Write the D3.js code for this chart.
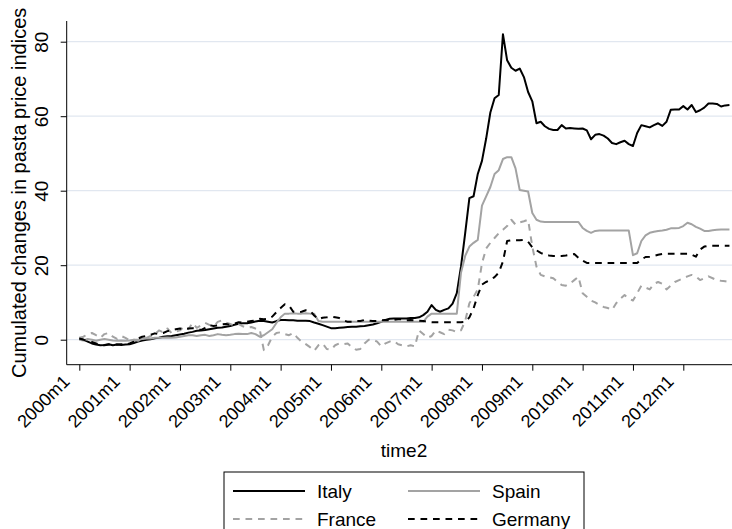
<!DOCTYPE html>
<html>
<head>
<meta charset="utf-8">
<script src="https://cdn.jsdelivr.net/npm/d3@7"></script>
<style>
  body { margin: 0; background: #fff; }
  svg { display: block; font-family: "Liberation Sans", Arial, sans-serif; }
</style>
</head>
<body>
<div id="wrapper"></div>
<script>
// DATA: monthly cumulated changes, 2000m1 .. 2012m12
const tickLabels = ["2000m1", "2001m1", "2002m1", "2003m1", "2004m1", "2005m1", "2006m1",
  "2007m1", "2008m1", "2009m1", "2010m1", "2011m1", "2012m1"];
const yTicks = [0, 20, 40, 60, 80];

const italy = [
  0.3, 0, -0.5, -1, -1.3, -1.5, -1.4, -1.2, -1.5, -1.3, -1.4, -1.3,
  -1.2, -0.9, -0.5, -0.2, 0, 0.1, 0.4, 0.5, 0.8, 0.9, 1, 1.2,
  1.4, 1.6, 1.9, 2.1, 2.4, 2.5, 2.6, 2.8, 3, 3.2, 3.3, 3.5,
  3.7, 4, 4.3, 4.4, 4.4, 4.6, 4.9, 5.1, 5, 4.8, 4.6, 5,
  5.3, 5.3, 5.2, 5.2, 5.1, 5.1, 5.1, 5, 4.6, 4.3, 3.9, 3.5,
  3.1, 3.1, 3.2, 3.3, 3.4, 3.5, 3.5, 3.6, 3.7, 3.9, 4.1, 4.4,
  4.8, 5.3, 5.6, 5.7, 5.7, 5.7, 5.7, 5.8, 5.8, 6, 6.6, 7.5,
  9.3, 8, 7.5, 8, 8.4, 9.7, 12.5, 19.6, 28.6, 38, 38.5, 44.5,
  48, 54, 61, 64.8, 65.7, 82, 75, 73, 72.2, 72.8, 70.5, 66.5,
  64, 58.1, 58.5, 57.3, 56.6, 56.3, 56.3, 57.6, 56.7, 56.8, 56.7, 56.6,
  56.7, 56.2, 53.8, 55, 55.2, 54.8, 54, 52.8, 52.5, 53, 53.4, 52.5,
  52, 55.5, 57.6, 57.3, 57, 57.6, 58.1, 57.4, 58.5, 61.7, 61.8, 61.8,
  62.7, 61.8, 63, 61.1, 61.6, 62.3, 63.4, 63.4, 63.3, 62.6, 62.9, 63
];

const spain = [
  0, -0.2, 0.2, 0, -0.3, 0, 0.2, 0, -0.2, -0.3, -0.2, -0.3,
  -0.2, 0, 0, 0.2, 0.3, 0.3, 0.5, 0.5, 0.5, 0.6, 0.5, 0.6,
  0.8, 1, 1.2, 1.2, 1, 1.2, 1.3, 1, 1.2, 1.5, 1.3, 1.2,
  1.3, 1.5, 1.6, 1.5, 1.5, 1.8, 1.5, 0.8, 1.2, 2, 2.8, 4.5,
  6, 7, 7, 7.1, 7, 7, 7.1, 7, 7, 5, 4.8, 4.8,
  4.8, 4.8, 4.8, 4.8, 4.8, 4.8, 4.8, 4.8, 4.8, 4.8, 4.8, 4.8,
  4.8, 4.8, 4.8, 4.8, 4.8, 4.8, 4.8, 4.8, 4.8, 4.8, 4.8, 6.2,
  7, 7, 7, 7, 7, 7, 7, 18, 22.5, 25, 26, 26.8,
  36, 38.5, 41, 44.5, 45.5, 48.5, 49, 49, 46, 40.2, 40, 39.8,
  34, 32.2, 31.7, 31.6, 31.6, 31.6, 31.6, 31.6, 31.6, 31.6, 31.6, 31.6,
  30, 29.2, 28.7, 29.2, 29.3, 29.3, 29.3, 29.3, 29.3, 29.3, 29.3, 29.3,
  22.7, 23.2, 26.5, 28, 28.7, 29, 29.2, 29.3, 29.5, 29.9, 29.9, 30,
  30.5, 31.4, 31, 30.3, 29.8, 29.2, 29.2, 29.4, 29.5, 29.6, 29.6, 29.6
];

const france = [
  0.5, 0.8, 1.5, 1.8, 1.2, 0.5, 1.5, 1.8, 0.8, 0.2, 1, 0.5,
  -0.2, 0, -0.3, 0.2, 0.5, 1, 1.5, 2.5, 2, 3, 1.8, 2.2,
  2.5, 3.5, 2.8, 4.5, 3.2, 3.8, 4.5, 4, 3.5, 4.8, 5.2, 4.6,
  4.2, 3.8, 4.2, 3.6, 3.2, 3.4, 3, 2.8, -2.8, -1.5, 0.8, 1.8,
  2, 1.5, 1.2, 1.8, 0.5, -0.5, -1.2, -2, -3, -1.5, -1, -2.5,
  -2.7, -1.5, -1, -1.2, -1, -2, -2.7, -2.5, -1, 0, 0, -0.5,
  -1.8, -1, -0.5, -0.3, -1.2, -1.5, -1.8, -1.5, -1.8, 2.5, 1.5, 0.5,
  1, 2.5, 2, 1.5, 2.7, 2.5, 2, 2.5, 5, 9.8, 11.5, 13.5,
  20.5, 24.5, 26, 27.3, 28.6, 29.5, 30.5, 32.2, 30.9, 31.5, 31.8, 32.2,
  25, 19.6, 17.4, 17, 16.8, 16.5, 15.5, 14.7, 14.5, 15.1, 16, 16.9,
  12.5, 11.5, 10.5, 10, 9.3, 8.8, 8.5, 8, 9.8, 11, 12, 11,
  10.5, 12.5, 14.5, 14, 13.5, 15, 15.5, 15, 13.5, 14.5, 15.5, 16,
  16.5, 17, 17.4, 17, 16, 16.5, 17, 16.5, 16, 15.8, 15.7, 15.5
];

const germany = [
  0.3, 0, -0.5, -0.6, -1, -1.4, -1.5, -1.3, -1.2, -1.3, -1.2, -1.4,
  -1, -0.5, 0.3, 0.8, 1, 1.3, 1.7, 1.5, 1.8, 2.3, 2.6, 2.8,
  3, 2.8, 3, 3.1, 3, 2.6, 3.2, 3.9, 3.7, 3.8, 4.1, 4.2,
  4, 4.3, 4.7, 4.6, 4.8, 5, 5.2, 5.6, 5.5, 5.6, 6.2, 7.4,
  8.5, 9.5, 9.2, 7.5, 7.4, 7.5, 7.9, 7.8, 6.5, 5.5, 5.9, 6,
  6.2, 6, 5.8, 5.2, 4.8, 4.8, 5, 5, 5.3, 5.1, 5, 5,
  5.2, 5.3, 5.2, 5.3, 5.5, 5.5, 5.2, 5.3, 5.2, 5.1, 5, 4.8,
  4.7, 4.7, 4.7, 4.7, 4.7, 4.7, 4.7, 4.7, 4.8, 6, 8.4, 12,
  14.8, 15.5, 16, 16.8, 18, 21, 26.5, 26.7, 26.7, 26.7, 26.8, 26.3,
  24.8, 24, 23.3, 22.8, 22.6, 22.5, 22.5, 22.5, 22.6, 22.8, 23, 22,
  21.2, 20.6, 20.6, 20.6, 20.6, 20.6, 20.6, 20.6, 20.6, 20.6, 20.6, 20.6,
  20.6, 20.6, 21.5, 22.2, 22.3, 22.5, 22.8, 23, 23.1, 23.1, 23.1, 23.1,
  23.1, 23.1, 22.8, 22.3, 24.2, 25, 25.2, 25.2, 25.2, 25.2, 25.2, 25.2
];

const seriesNames = ["Italy", "Spain", "France", "Germany"];
const seriesValues = [italy, spain, france, germany];
const seriesStyles = [
  { color: "#000000", dash: null },
  { color: "#a3a3a3", dash: null },
  { color: "#a3a3a3", dash: "6.7,5.8" },
  { color: "#000000", dash: "6.7,5.8" }
];

// DIMENSIONS
const width = 732;
const height = 529;
const plot = { left: 66.7, right: 745, top: 21, bottom: 364.7 };

const svg = d3.select("#wrapper").append("svg")
  .attr("width", width)
  .attr("height", height);

// SCALES (x = month index since 2000m1)
const xScale = d3.scaleLinear()
  .domain([0, 144])
  .range([79.3, 683.3]);

const yScale = d3.scaleLinear()
  .domain([0, 80])
  .range([339.7, 41.7]);

// GRIDLINES
svg.append("g")
  .selectAll("line")
  .data(yTicks)
  .join("line")
  .attr("x1", plot.left)
  .attr("x2", plot.right)
  .attr("y1", d => yScale(d))
  .attr("y2", d => yScale(d))
  .attr("stroke", "#e1e7f0")
  .attr("stroke-width", 1.3);

// LINES
const lineGenerator = d3.line()
  .x((d, i) => xScale(i))
  .y(d => yScale(d));

svg.append("g")
  .selectAll("path")
  .data(seriesValues)
  .join("path")
  .attr("d", d => lineGenerator(d))
  .attr("fill", "none")
  .attr("stroke", (d, i) => seriesStyles[i].color)
  .attr("stroke-dasharray", (d, i) => seriesStyles[i].dash)
  .attr("stroke-width", 2)
  .attr("stroke-linejoin", "round");

// AXES
const yAxis = svg.append("g")
  .attr("transform", `translate(${plot.left},0)`)
  .call(d3.axisLeft(yScale).tickValues(yTicks).tickSize(6).tickSizeOuter(0).tickFormat(d3.format("d")));
yAxis.select(".domain").attr("d", `M0,${plot.top}V${plot.bottom}`);
yAxis.selectAll(".tick text")
  .attr("font-size", 19)
  .attr("fill", "#000")
  .attr("text-anchor", "middle")
  .attr("transform", "rotate(-90)")
  .attr("x", 0)
  .attr("dy", 0)
  .attr("y", -19);
yAxis.selectAll("line, path").attr("stroke", "#000");

const tickMonths = tickLabels.map((t, i) => i * 12);
const xAxis = svg.append("g")
  .attr("transform", `translate(0,${plot.bottom})`)
  .call(d3.axisBottom(xScale).tickValues(tickMonths).tickSize(6).tickSizeOuter(0)
    .tickFormat((d, i) => tickLabels[i]));
xAxis.select(".domain").attr("d", `M${plot.left},0H${plot.right}`);
xAxis.selectAll("line, path").attr("stroke", "#000");
xAxis.selectAll(".tick text")
  .attr("font-size", 18)
  .attr("fill", "#000")
  .attr("text-anchor", "end")
  .attr("dy", 0)
  .attr("y", 0)
  .attr("transform", "translate(-9,18) rotate(-45)");

// AXIS TITLES
svg.append("text")
  .attr("transform", `translate(26,${(plot.top + plot.bottom) / 2}) rotate(-90)`)
  .attr("text-anchor", "middle")
  .attr("font-size", 20)
  .text("Cumulated changes in pasta price indices");

svg.append("text")
  .attr("x", 404)
  .attr("y", 457)
  .attr("text-anchor", "middle")
  .attr("font-size", 19)
  .text("time2");

// LEGEND
const legend = svg.append("g");
legend.append("rect")
  .attr("x", 224)
  .attr("y", 472)
  .attr("width", 360)
  .attr("height", 62)
  .attr("fill", "#fff")
  .attr("stroke", "#000")
  .attr("stroke-width", 1);

const legendPos = [
  { x: 233, y: 491 }, { x: 408, y: 491 },
  { x: 233, y: 519 }, { x: 408, y: 519 }
];

const items = legend.selectAll("g.item")
  .data(seriesNames)
  .join("g")
  .attr("class", "item")
  .attr("transform", (d, i) => `translate(${legendPos[i].x},${legendPos[i].y})`);

items.append("line")
  .attr("x1", 0)
  .attr("x2", 72)
  .attr("stroke", (d, i) => seriesStyles[i].color)
  .attr("stroke-dasharray", (d, i) => seriesStyles[i].dash)
  .attr("stroke-width", 2);

items.append("text")
  .attr("x", 84)
  .attr("y", 7)
  .attr("font-size", 19)
  .text(d => d);
</script>
</body>
</html>
